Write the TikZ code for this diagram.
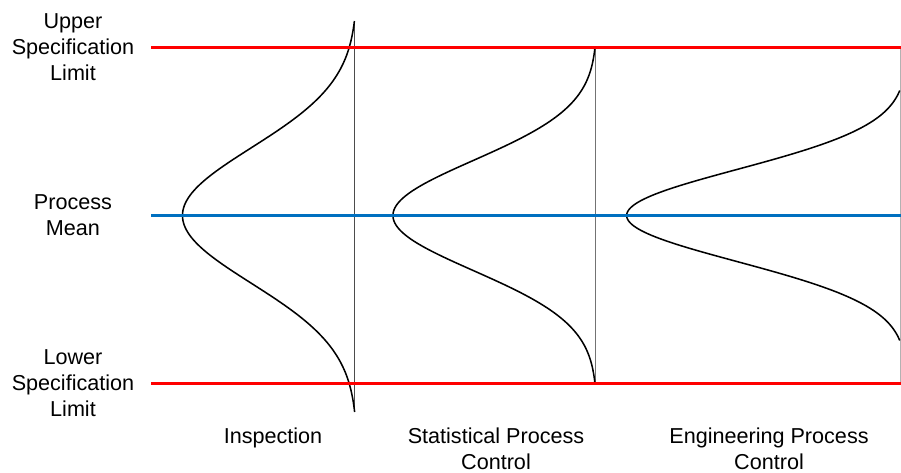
\documentclass[tikz,border=0pt]{standalone}
\usepackage{fontspec}
\setmainfont{Liberation Sans}
\definecolor{limred}{HTML}{FF0000}
\definecolor{meanblue}{HTML}{0070C0}
\begin{document}
\begin{tikzpicture}[x=0.75pt,y=-0.75pt,
  lbl/.style={align=center,anchor=base,inner sep=0pt,font=\fontsize{16.2}{19.5}\selectfont},
  curve/.style={black,line width=1.15pt,line join=round},
  axisline/.style={line width=0.75pt},
  limline/.style={limred,line width=2.25pt},
  meanline/.style={meanblue,line width=2.25pt}]
\useasboundingbox (0,0) rectangle (901,472);
\clip (0,0) rectangle (901,472);
% vertical reference lines
\coordinate (v1t) at (354.5,21);   \coordinate (v1b) at (354.5,412);
\coordinate (v2t) at (595,47);     \coordinate (v2b) at (595,383.7);
\coordinate (v3t) at (900.5,47);   \coordinate (v3b) at (900.5,383.7);
\draw[axisline,black!70] (v1t) -- (v1b);
\draw[axisline,black!55] (v2t) -- (v2b);
\draw[axisline,black!30] (v3t) -- (v3b);
% distribution curves
\draw[curve] plot[domain=-194.5:196.5,samples=160,variable=\t]
  ({354.5-174.7*(exp(-0.5*(\t/67.7)*(\t/67.7))-0.0155)},{215.5+\t});
\draw[curve] plot[domain=-168.5:168.5,samples=160,variable=\t]
  ({595-203.9*(exp(-0.5*(\t/55)*(\t/55))-0.00915)},{215.5+\t});
\draw[curve] plot[domain=-125:125,samples=160,variable=\t]
  ({906.7-280*exp(-0.5*(\t/46)*(\t/46))},{215.5+\t});
% limit and mean lines
\coordinate (uslA) at (151,47);   \coordinate (uslB) at (901,47);
\coordinate (pmA) at (151,215.5); \coordinate (pmB) at (901,215.5);
\coordinate (lslA) at (151,383.7);\coordinate (lslB) at (901,383.7);
\draw[limline] (uslA) -- (uslB);
\draw[meanline] (pmA) -- (pmB);
\draw[limline] (lslA) -- (lslB);
% labels (anchor=base is the baseline of the last line)
\node[lbl] (usl) at (73,80) {Upper\\Specification\\Limit};
\node[lbl] (pm) at (73,235) {Process\\Mean};
\node[lbl] (lsl) at (73,416.7) {Lower\\Specification\\Limit};
\node[lbl] (insp) at (273,443.3) {Inspection};
\node[lbl] (spc) at (496,469) {Statistical Process\\Control};
\node[lbl] (epc) at (769,469) {Engineering Process\\Control};
\end{tikzpicture}
\end{document}
